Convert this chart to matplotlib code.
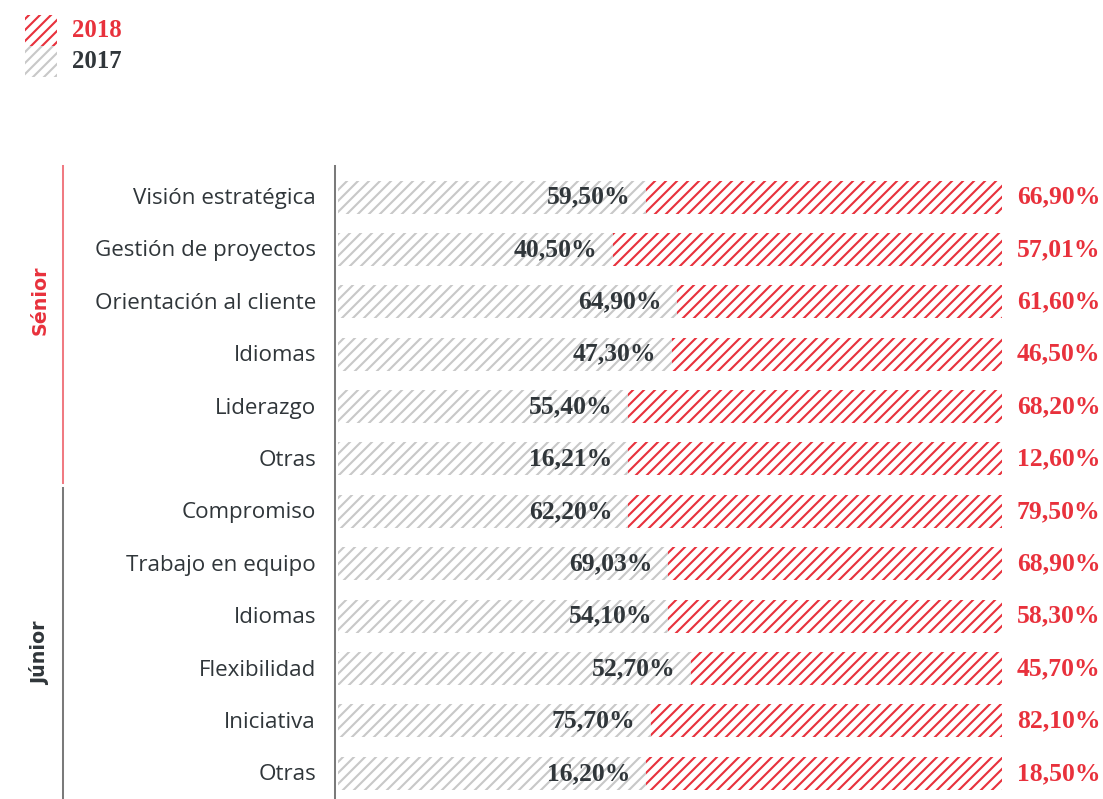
import matplotlib.pyplot as plt
from matplotlib.patches import Rectangle

# data
categories = ["Visión estratégica", "Gestión de proyectos", "Orientación al cliente",
              "Idiomas", "Liderazgo", "Otras",
              "Compromiso", "Trabajo en equipo", "Idiomas", "Flexibilidad",
              "Iniciativa", "Otras"]
groups = ["Sénior", "Júnior"]
group_sizes = [6, 6]
v2017 = ["59,50%", "40,50%", "64,90%", "47,30%", "55,40%", "16,21%",
         "62,20%", "69,03%", "54,10%", "52,70%", "75,70%", "16,20%"]
v2018 = ["66,90%", "57,01%", "61,60%", "46,50%", "68,20%", "12,60%",
         "79,50%", "68,90%", "58,30%", "45,70%", "82,10%", "18,50%"]
# share of each bar taken by the 2017 segment
share_2017 = [46.4, 41.4, 51.1, 50.3, 43.7, 43.7,
              43.7, 49.7, 49.7, 53.2, 47.1, 46.4]

RED = "#e8313c"
DARK = "#30363a"
GRAY_HATCH = "#c8c8c8"
RED_LINE = "#f07a82"
GRAY_LINE = "#7a7a7a"

W, H, DPI = 1103, 799, 132
plt.rcParams["hatch.linewidth"] = 1.15
plt.rcParams["font.family"] = ["Open Sans", "DejaVu Sans"]

fig = plt.figure(figsize=(W / DPI, H / DPI), dpi=DPI)
ax = fig.add_axes([338 / W, 1 - 799 / H, 664 / W, (799 - 166) / H])

n = len(categories)
ys = list(range(n))
ax.barh(ys, share_2017, height=0.63, color="white", edgecolor=GRAY_HATCH,
        hatch="////", linewidth=0)
share_2018 = [100 - s for s in share_2017]
ax.barh(ys, share_2018, left=share_2017, height=0.63, color="white",
        edgecolor=RED, hatch="////", linewidth=0)

ax.set_xlim(0, 100)
ax.set_ylim(11.49, -0.592)
ax.set_xticks([])
ax.set_yticks([])
for s in ["top", "right", "bottom"]:
    ax.spines[s].set_visible(False)
ax.spines["left"].set_position(("outward", 1.6))
ax.spines["left"].set_color(GRAY_LINE)
ax.spines["left"].set_linewidth(1.1)

ytrans = ax.get_yaxis_transform()
serif = "Liberation Serif"
for i in ys:
    ax.text(-0.033, i + 0.03, categories[i], transform=ytrans, ha="right",
            va="center", fontsize=12.2, color=DARK)
    ax.annotate(v2017[i], xy=(share_2017[i], i), xytext=(-16, 0),
                textcoords="offset pixels", ha="right", va="center",
                fontsize=14, fontweight="bold", family=serif, color=DARK)
    ax.annotate(v2018[i], xy=(100, i), xytext=(15, 0),
                textcoords="offset pixels", ha="left", va="center",
                fontsize=14, fontweight="bold", family=serif, color=RED)

# group brackets on the left
start = 0
group_colors = [RED, DARK]
line_colors = [RED_LINE, GRAY_LINE]
label_pos = [1.97, 8.7]
for g, size in enumerate(group_sizes):
    lo = start - 0.59 if g == 0 else start - 0.45
    hi = start + size - 0.55 if g == 0 else start + size - 0.51
    ax.plot([-0.414, -0.414], [lo, hi], transform=ytrans, color=line_colors[g],
            lw=1.1, clip_on=False)
    ax.text(-0.449, label_pos[g], groups[g], transform=ytrans, rotation=90,
            ha="center", va="center", fontsize=10.4, fontweight="bold",
            family="DejaVu Sans", color=group_colors[g])
    start += size

# legend
def fig_px(x, y):
    return x / W, 1 - y / H

leg_items = [("2018", RED, 15, 46), ("2017", GRAY_HATCH, 46, 77)]
for label, col, y0, y1 in leg_items:
    x0, yb = fig_px(25, y1)
    fig.patches.append(Rectangle((x0, yb), 32 / W, (y1 - y0) / H,
                                 transform=fig.transFigure, facecolor="white",
                                 edgecolor=col, hatch="////", linewidth=0))
    tx, ty = fig_px(72, (y0 + y1) / 2)
    fig.text(tx, ty, label, ha="left", va="center", fontsize=13.5,
             fontweight="bold", family=serif,
             color=RED if label == "2018" else DARK)

fig.savefig("out.png", dpi=DPI)
